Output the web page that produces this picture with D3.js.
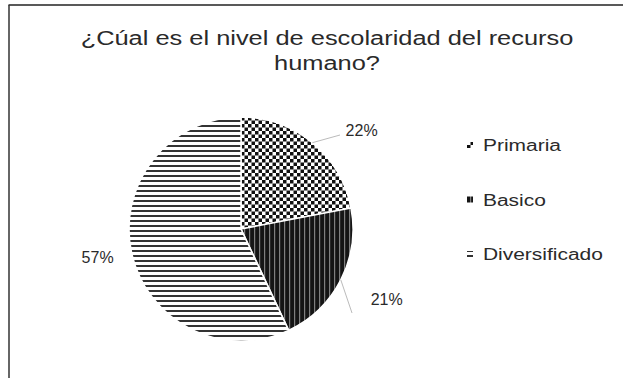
<!DOCTYPE html>
<html><head><meta charset="utf-8">
<script src="https://cdn.jsdelivr.net/npm/d3@7"></script>
<style>
html,body{margin:0;padding:0;background:#fff;}
text{font-family:"Liberation Sans",Arial,sans-serif;fill:#2a2a2a;}
</style></head>
<body>
<svg id="chart" width="623" height="378"></svg>
<script>
const titleLines = ["¿Cúal es el nivel de escolaridad del recurso", "humano?"];
const categories = ["Primaria", "Basico", "Diversificado"];
const values = [22, 21, 57];
const labels = ["22%", "21%", "57%"];
const patternIds = ["pPrim", "pBas", "pDiv"];

const W = 623, H = 378;
const svg = d3.select("#chart");
const defs = svg.append("defs");

// checkerboard
const p1 = defs.append("pattern").attr("id", "pPrim").attr("patternUnits", "userSpaceOnUse")
  .attr("width", 7).attr("height", 7);
p1.append("rect").attr("width", 7).attr("height", 7).attr("fill", "#fff");
p1.append("rect").attr("width", 3.5).attr("height", 3.5).attr("fill", "#111");
p1.append("rect").attr("x", 3.5).attr("y", 3.5).attr("width", 3.5).attr("height", 3.5).attr("fill", "#111");
// vertical stripes on dark
const p2 = defs.append("pattern").attr("id", "pBas").attr("patternUnits", "userSpaceOnUse")
  .attr("width", 5).attr("height", 5);
p2.append("rect").attr("width", 5).attr("height", 5).attr("fill", "#151515");
p2.append("rect").attr("x", 3).attr("width", 1.2).attr("height", 5).attr("fill", "#808080");
// horizontal lines
const p3 = defs.append("pattern").attr("id", "pDiv").attr("patternUnits", "userSpaceOnUse")
  .attr("width", 5).attr("height", 5);
p3.append("rect").attr("width", 5).attr("height", 5).attr("fill", "#fff");
p3.append("rect").attr("y", 1).attr("width", 5).attr("height", 2).attr("fill", "#333");

svg.append("rect").attr("width", W).attr("height", H).attr("fill", "#fff");

// frame (top and left visible)
svg.append("line").attr("x1", 8.5).attr("y1", 5).attr("x2", W).attr("y2", 5)
  .attr("stroke", "#222").attr("stroke-width", 1.5);
svg.append("line").attr("x1", 9).attr("y1", 5).attr("x2", 9).attr("y2", H)
  .attr("stroke", "#333").attr("stroke-width", 1.5);

// title
svg.selectAll("text.title").data(titleLines).join("text").attr("class", "title")
  .attr("x", 327).attr("y", (d, i) => 45 + i * 25)
  .attr("text-anchor", "middle").attr("font-size", 20)
  .attr("transform", "translate(327,0) scale(1.27,1) translate(-327,0)")
  .text(d => d);

const cx = 241, cy = 229, r = 112;
const pie = d3.pie().sort(null).value(d => d)(values);
const arc = d3.arc().innerRadius(0).outerRadius(r);
const g = svg.append("g").attr("transform", `translate(${cx},${cy})`);
g.selectAll("path").data(pie).join("path")
  .attr("d", arc).attr("fill", (d, i) => `url(#${patternIds[i]})`)
  .attr("stroke", "#fff").attr("stroke-width", 1.5);

const mid = d => (d.startAngle + d.endAngle) / 2;
const labelArc = d3.arc().innerRadius(150).outerRadius(150);
const labelNudge = [[25, 17], [12, 2], [3, -5]];
const leaderEnd = [[99, -94], [111, 84], null];

// leader lines
pie.forEach((d, i) => {
  if (!leaderEnd[i]) return;
  const a = mid(d);
  g.append("line").attr("x1", Math.sin(a) * r).attr("y1", -Math.cos(a) * r)
    .attr("x2", leaderEnd[i][0]).attr("y2", leaderEnd[i][1])
    .attr("stroke", "#bbb").attr("stroke-width", 1);
});

g.selectAll("text.lbl").data(pie).join("text").attr("class", "lbl")
  .attr("x", (d, i) => labelArc.centroid(d)[0] + labelNudge[i][0])
  .attr("y", (d, i) => labelArc.centroid(d)[1] + labelNudge[i][1] + 6)
  .attr("text-anchor", "middle").attr("font-size", 16)
  .text((d, i) => labels[i]);

// legend
const ly = d3.scalePoint().domain(categories).range([145, 254]);
const sx = 1.31;
const leg = svg.selectAll("g.leg").data(categories).join("g").attr("class", "leg")
  .attr("transform", d => `translate(467,${ly(d)})`);
leg.append("rect").attr("x", 0).attr("y", -3).attr("width", 6).attr("height", 6)
  .attr("fill", (d, i) => `url(#${patternIds[i]})`);
leg.append("text").attr("y", 6).attr("font-size", 16)
  .attr("transform", `scale(${sx},1)`).attr("x", 16 / sx)
  .text(d => d);
</script>
</body></html>
